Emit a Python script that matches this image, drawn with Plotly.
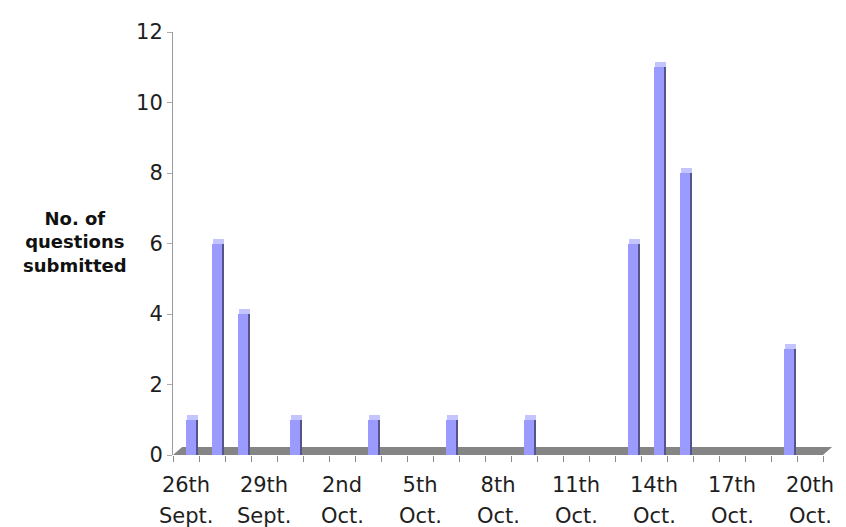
import plotly.graph_objects as go

# ---- data ----
day_labels = ["26th", "27th", "28th", "29th", "30th", "1st", "2nd", "3rd", "4th", "5th",
              "6th", "7th", "8th", "9th", "10th", "11th", "12th", "13th", "14th", "15th",
              "16th", "17th", "18th", "19th", "20th"]
month_labels = ["Sept."] * 5 + ["Oct."] * 20
counts = [1, 6, 4, 0, 1, 0, 0, 1, 0, 0, 1, 0, 0, 1, 0, 0, 0, 6, 11, 8, 0, 0, 0, 3, 0]
label_every = 3
y_max = 12
y_title = "No. of<br>questions<br>submitted"

idx = list(range(len(counts)))
tick_idx = idx[::label_every]

FONT = "DejaVu Sans"
TXT = "#1e1e1e"

fig = go.Figure()

# front face
fig.add_trace(go.Bar(x=idx, y=counts, width=0.37, offset=0.0,
                     marker=dict(color="#9a9aff", line=dict(width=0)),
                     hoverinfo="x+y", showlegend=False))
# dark side face
fig.add_trace(go.Bar(x=idx, y=counts, width=0.11, offset=0.37,
                     marker=dict(color="#55558a", line=dict(width=0)),
                     hoverinfo="skip", showlegend=False))
# light top cap
cap = [0.14 if c > 0 else 0 for c in counts]
fig.add_trace(go.Bar(x=idx, y=cap, base=counts, width=0.46, offset=0.02,
                     marker=dict(color="#c4c4ff", line=dict(width=0)),
                     hoverinfo="skip", showlegend=False))

# floor (3D base), in paper coords so the slanted right end is not clipped
n = len(counts)
x0, x1 = -0.5, n - 0.5
pdx, pdy = 0.014, 0.019
fig.add_shape(type="path", xref="paper", yref="paper", layer="below",
              path=f"M 0,0 L 1,0 L {1+pdx},{pdy} L {pdx},{pdy} Z",
              fillcolor="#858585", line=dict(width=0))

# month row under the day labels
for i in tick_idx:
    fig.add_annotation(x=i, y=0, xref="x", yref="y", text=month_labels[i],
                       showarrow=False, yshift=-61, yanchor="middle",
                       font=dict(family=FONT, size=21, color=TXT))

# y-axis title
fig.add_annotation(x=0, y=0.503, xref="paper", yref="paper", xshift=-98,
                   text=f"<b>{y_title}</b>", showarrow=False, align="center",
                   xanchor="center", yanchor="middle",
                   font=dict(family=FONT, size=18, color="#111111"))

fig.update_layout(
    width=846, height=527,
    margin=dict(l=173, r=13, t=32, b=72),
    paper_bgcolor="white", plot_bgcolor="white",
    barmode="overlay", bargap=0,
    font=dict(family=FONT, size=21, color=TXT),
    xaxis=dict(range=[x0, x1], tickmode="array", tickvals=tick_idx,
               ticktext=[day_labels[i] for i in tick_idx],
               ticks="outside", ticklen=7, tickcolor="rgba(0,0,0,0)",
               ticklabelstandoff=4,
               minor=dict(ticks="outside", ticklen=6, tick0=-0.5, dtick=1,
                          tickcolor="#8a8a8a", tickwidth=1),
               showline=False, showgrid=False, zeroline=False,
               tickfont=dict(family=FONT, size=21, color=TXT)),
    yaxis=dict(range=[0, y_max], tickmode="linear", tick0=0, dtick=2,
               ticks="outside", ticklen=5, tickcolor="#aaaaaa",
               showline=True, linecolor="#9a9a9a", linewidth=1,
               showgrid=False, zeroline=False,
               tickfont=dict(family=FONT, size=21, color=TXT)),
)

fig.write_html("out.html", config={"displayModeBar": False},
               post_script="document.body.style.margin='0';document.body.style.padding='0';")
